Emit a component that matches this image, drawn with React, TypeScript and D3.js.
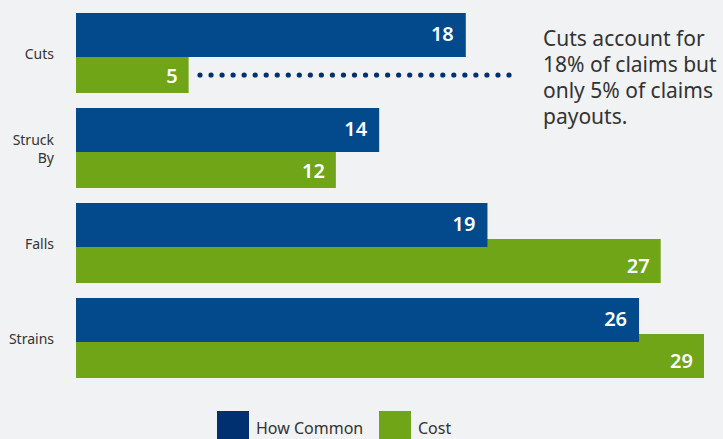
import React from "react";
import * as d3 from "d3";

const categories = ["Cuts", "Struck By", "Falls", "Strains"];
const howCommon = [18, 14, 19, 26];
const cost = [5.2, 12, 27, 29];
const seriesNames = ["How Common", "Cost"];
const annotationLines = ["Cuts account for", "18% of claims but", "only 5% of claims", "payouts."];

const W = 723;
const H = 439;
const BLUE = "#024a8b";
const GREEN = "#6fa517";
const LEGEND_BLUE = "#00306f";
const BG = "#f1f2f4";
const TEXT = "#333333";
const FONT = "'Source Sans Pro', 'Noto Sans', 'Open Sans', sans-serif";

export default function App() {
  const x = d3.scaleLinear().domain([0, 29]).range([76, 704]);
  const y = d3.scaleBand<string>().domain(categories).range([13, 393]).paddingInner(0).paddingOuter(0);
  const barH = 44;
  const greenOff = 36;
  const dotY = (y("Cuts") as number) + 62;
  const dotXs = d3.range(29).map((i) => 200 + (i * (509 - 200)) / 28);

  return (
    <div style={{ position: "fixed", left: 0, top: 0, width: W, height: H, background: BG }}>
      <svg width={W} height={H} style={{ display: "block", fontFamily: FONT }}>
        <rect x={0} y={0} width={W} height={H} fill={BG} />
        {categories.map((c, i) => {
          const y0 = y(c) as number;
          const lines = c === "Struck By" ? ["Struck", "By"] : [c];
          const mid = y0 + (greenOff + barH) / 2;
          return (
            <g key={c}>
              <rect x={x(0)} y={y0 + greenOff} width={x(cost[i]) - x(0)} height={barH} fill={GREEN} />
              <rect x={x(0)} y={y0} width={x(howCommon[i]) - x(0)} height={barH} fill={BLUE} />
              <text
                x={x(howCommon[i]) - 12}
                y={y0 + 20}
                textAnchor="end"
                dominantBaseline="central"
                fill="#fff"
                fontWeight={600}
                fontSize={20}
              >
                {Math.round(howCommon[i])}
              </text>
              <text
                x={x(cost[i]) - 11}
                y={y0 + greenOff + 26}
                textAnchor="end"
                dominantBaseline="central"
                fill="#fff"
                fontWeight={600}
                fontSize={20}
              >
                {Math.round(cost[i])}
              </text>
              {lines.map((l, j) => (
                <text
                  key={l}
                  x={54}
                  y={mid + (j - (lines.length - 1) / 2) * 18}
                  textAnchor="end"
                  dominantBaseline="central"
                  fill={TEXT}
                  fontSize={14}
                >
                  {l}
                </text>
              ))}
            </g>
          );
        })}
        {dotXs.map((dx, i) => (
          <circle key={i} cx={dx} cy={dotY} r={2.6} fill={LEGEND_BLUE} />
        ))}
        {annotationLines.map((l, i) => (
          <text key={i} x={543} y={46 + i * 26} fill={TEXT} fontSize={21}>
            {l}
          </text>
        ))}
        <g>
          <rect x={217} y={411} width={32} height={32} fill={LEGEND_BLUE} />
          <text x={256} y={434} fill={TEXT} fontSize={16}>
            {seriesNames[0]}
          </text>
          <rect x={379} y={411} width={32} height={32} fill={GREEN} />
          <text x={418} y={434} fill={TEXT} fontSize={16}>
            {seriesNames[1]}
          </text>
        </g>
      </svg>
    </div>
  );
}
